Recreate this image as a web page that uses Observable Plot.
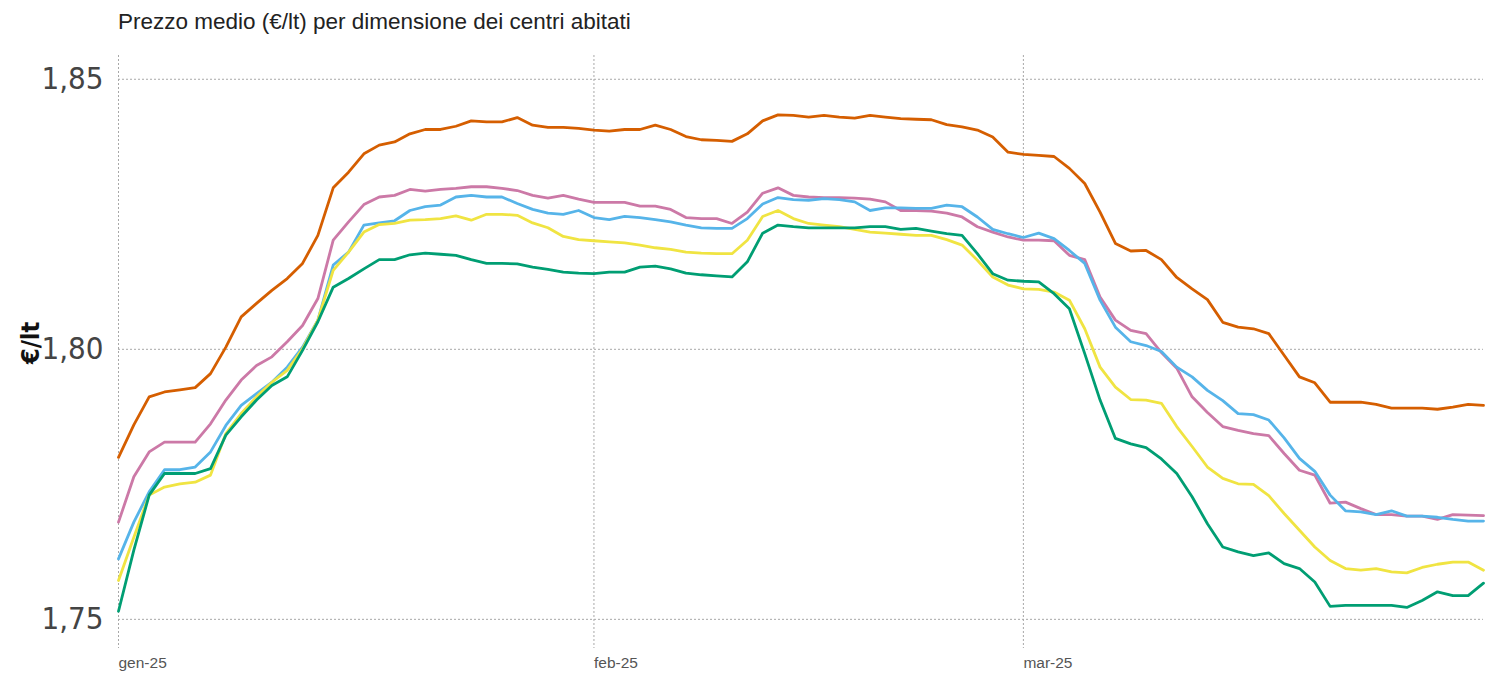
<!DOCTYPE html>
<html>
<head>
<meta charset="utf-8">
<script src="https://cdn.jsdelivr.net/npm/d3@7"></script>
<script src="https://cdn.jsdelivr.net/npm/@observablehq/plot@0.6"></script>
<style>
  html, body { margin: 0; padding: 0; background: #fff; }
  body { width: 1497px; height: 679px; overflow: hidden; font-family: "Liberation Sans", Arial, sans-serif; }
  #title { height: 45px; box-sizing: border-box; padding: 9px 0 0 118px; font-size: 22.5px; color: #222; line-height: 26px; white-space: nowrap; font-family: "Liberation Sans", Arial, sans-serif; }
</style>
</head>
<body>
<div id="title">Prezzo medio (€/lt) per dimensione dei centri abitati</div>
<div id="chart"></div>
<script>
// Tick labels and positions
const xTickDates = ["2025-01-01", "2025-02-01", "2025-03-01"];
const xTickLabels = ["gen-25", "feb-25", "mar-25"];
const yTicks = [1.75, 1.80, 1.85];
const yLabel = "€/lt";

// Daily values: 1 Jan 2025 – 31 Mar 2025
const arancione = [
  1.7800, 1.7860, 1.7912, 1.7921, 1.7925, 1.7929, 1.7955, 1.8004, 1.8060, 1.8085,
  1.8109, 1.8131, 1.8159, 1.8211, 1.8299, 1.8328, 1.8362, 1.8378, 1.8384, 1.8399,
  1.8407, 1.8407, 1.8413, 1.8423, 1.8421, 1.8421, 1.8429, 1.8415, 1.8411, 1.8411,
  1.8409,
  1.8406, 1.8404, 1.8407, 1.8407, 1.8415, 1.8407, 1.8394, 1.8388, 1.8387, 1.8385,
  1.8399, 1.8423, 1.8434, 1.8433, 1.8430, 1.8433, 1.8430, 1.8428, 1.8433, 1.8430,
  1.8427, 1.8426, 1.8425, 1.8416, 1.8412, 1.8406, 1.8393, 1.8365,
  1.8361, 1.8359, 1.8357, 1.8335, 1.8307, 1.8254, 1.8196, 1.8182, 1.8183, 1.8166,
  1.8133, 1.8112, 1.8092, 1.8050, 1.8041, 1.8038, 1.8029, 1.7989, 1.7949, 1.7938,
  1.7902, 1.7902, 1.7902, 1.7898, 1.7891, 1.7891, 1.7891, 1.7889, 1.7893, 1.7898,
  1.7896
];
const rosa = [
  1.7680, 1.7764, 1.7810, 1.7828, 1.7828, 1.7828, 1.7862, 1.7906, 1.7943, 1.7970,
  1.7986, 1.8014, 1.8044, 1.8094, 1.8202, 1.8236, 1.8268, 1.8282, 1.8285, 1.8296,
  1.8293, 1.8296, 1.8298, 1.8301, 1.8301, 1.8298, 1.8294, 1.8285, 1.8280, 1.8285,
  1.8278,
  1.8272, 1.8272, 1.8272, 1.8265, 1.8265, 1.8259, 1.8244, 1.8242, 1.8242, 1.8233,
  1.8254, 1.8289, 1.8299, 1.8285, 1.8282, 1.8281, 1.8281, 1.8280, 1.8278, 1.8273,
  1.8257, 1.8257, 1.8256, 1.8252, 1.8245, 1.8227, 1.8217, 1.8208,
  1.8202, 1.8202, 1.8201, 1.8174, 1.8166, 1.8097, 1.8054, 1.8035, 1.8029, 1.7994,
  1.7965, 1.7912, 1.7883, 1.7857, 1.7850, 1.7844, 1.7840, 1.7807, 1.7776, 1.7767,
  1.7715, 1.7717, 1.7705, 1.7694, 1.7694, 1.7691, 1.7691, 1.7685, 1.7694, 1.7693,
  1.7692
];
const azzurro = [
  1.7612, 1.7680, 1.7736, 1.7777, 1.7777, 1.7782, 1.7810, 1.7859, 1.7896, 1.7918,
  1.7939, 1.7967, 1.8004, 1.8054, 1.8156, 1.8180, 1.8230, 1.8234, 1.8238, 1.8257,
  1.8264, 1.8267, 1.8282, 1.8285, 1.8282, 1.8282, 1.8270, 1.8259, 1.8252, 1.8250,
  1.8257,
  1.8244, 1.8240, 1.8246, 1.8244, 1.8240, 1.8236, 1.8230, 1.8225, 1.8224, 1.8224,
  1.8242, 1.8269, 1.8281, 1.8277, 1.8276, 1.8279, 1.8277, 1.8273, 1.8257, 1.8262,
  1.8262, 1.8261, 1.8261, 1.8267, 1.8264, 1.8245, 1.8222, 1.8214,
  1.8207, 1.8215, 1.8205, 1.8183, 1.8159, 1.8091, 1.8041, 1.8014, 1.8007, 1.7996,
  1.7967, 1.7949, 1.7924, 1.7905, 1.7881, 1.7879, 1.7869, 1.7836, 1.7798, 1.7774,
  1.7730, 1.7701, 1.7699, 1.7694, 1.7701, 1.7691, 1.7691, 1.7689, 1.7685, 1.7682,
  1.7682
];
const giallo = [
  1.7572, 1.7652, 1.7730, 1.7745, 1.7751, 1.7754, 1.7767, 1.7844, 1.7881, 1.7912,
  1.7939, 1.7961, 1.8001, 1.8054, 1.8146, 1.8180, 1.8217, 1.8231, 1.8233, 1.8239,
  1.8240, 1.8242, 1.8247, 1.8239, 1.8250, 1.8250, 1.8248, 1.8234, 1.8225, 1.8209,
  1.8203,
  1.8201, 1.8199, 1.8197, 1.8193, 1.8188, 1.8185, 1.8180, 1.8178, 1.8177, 1.8177,
  1.8202, 1.8246, 1.8257, 1.8242, 1.8233, 1.8230, 1.8227, 1.8222, 1.8217, 1.8215,
  1.8213, 1.8211, 1.8211, 1.8203, 1.8193, 1.8165, 1.8134, 1.8119,
  1.8112, 1.8111, 1.8106, 1.8091, 1.8038, 1.7967, 1.7930, 1.7907, 1.7906, 1.7900,
  1.7857, 1.7820, 1.7782, 1.7761, 1.7751, 1.7750, 1.7729, 1.7696, 1.7665, 1.7634,
  1.7609, 1.7594, 1.7591, 1.7594, 1.7588, 1.7586, 1.7596, 1.7602, 1.7606, 1.7606,
  1.7591
];
const verde = [
  1.7515, 1.7628, 1.7730, 1.7770, 1.7770, 1.7770, 1.7779, 1.7841, 1.7875, 1.7906,
  1.7933, 1.7949, 1.7998, 1.8051, 1.8115, 1.8131, 1.8149, 1.8166, 1.8166, 1.8175,
  1.8178, 1.8176, 1.8174, 1.8166, 1.8159, 1.8159, 1.8158, 1.8152, 1.8148, 1.8143,
  1.8141,
  1.8140, 1.8143, 1.8143, 1.8152, 1.8154, 1.8149, 1.8141, 1.8138, 1.8136, 1.8134,
  1.8162, 1.8215, 1.8230, 1.8227, 1.8225, 1.8225, 1.8225, 1.8225, 1.8227, 1.8227,
  1.8222, 1.8224, 1.8219, 1.8214, 1.8211, 1.8177, 1.8140, 1.8128,
  1.8126, 1.8125, 1.8103, 1.8075, 1.7992, 1.7906, 1.7835, 1.7825, 1.7818, 1.7797,
  1.7770, 1.7727, 1.7677, 1.7634, 1.7625, 1.7618, 1.7623, 1.7603, 1.7594, 1.7569,
  1.7524, 1.7526, 1.7526, 1.7526, 1.7526, 1.7522, 1.7535, 1.7551, 1.7544, 1.7544,
  1.7567
];

const seriesNames = ["arancione", "rosa", "azzurro", "giallo", "verde"];
const seriesValues = [arancione, rosa, azzurro, giallo, verde];
const seriesColors = ["#D55E00", "#CC79A7", "#56B4E9", "#F0E442", "#009E73"];

const dates = d3.utcDay.range(new Date(Date.UTC(2025, 0, 1)), new Date(Date.UTC(2025, 3, 1)));
const rows = [];
seriesNames.forEach((name, s) => {
  seriesValues[s].forEach((v, i) => rows.push({serie: name, data: dates[i], prezzo: v}));
});
const xTicks = xTickDates.map(s => new Date(s + "T00:00:00Z"));
const fmtX = d => xTickLabels[xTicks.findIndex(t => +t === +d)];
const fmtY = d => d.toFixed(2).replace(".", ",");
const FONT = '"Liberation Sans", Arial, sans-serif';
const NARROW = '"DejaVu Sans Condensed", "Liberation Sans", Arial, sans-serif';

const chart = Plot.plot({
  width: 1497,
  height: 634,
  marginLeft: 118,
  marginRight: 14,
  marginTop: 10,
  marginBottom: 31,
  style: {fontFamily: FONT, background: "#fff", overflow: "visible"},
  x: {type: "utc", domain: [dates[0], dates[dates.length - 1]], label: null},
  y: {domain: [1.7446, 1.8544], label: null},
  color: {domain: seriesNames, range: seriesColors},
  marks: [
    Plot.gridX(xTicks, {stroke: "#a8a8a8", strokeOpacity: 1, strokeDasharray: "2,2", strokeWidth: 1}),
    Plot.gridY(yTicks, {stroke: "#a8a8a8", strokeOpacity: 1, strokeDasharray: "2,2", strokeWidth: 1}),
    Plot.axisX(xTicks, {tickFormat: fmtX, tickSize: 0, tickPadding: 8, textAnchor: "start", fontSize: 15.5, fill: "#555", label: null}),
    Plot.axisY(yTicks, {tickFormat: fmtY, tickSize: 0, tickPadding: 15, fontSize: 31, fontFamily: NARROW, fill: "#444", label: null}),
    Plot.text([yLabel], {frameAnchor: "left", dx: -88, dy: 12, rotate: -90, fontSize: 25, fontWeight: "bold", fontFamily: NARROW, fill: "#111"}),
    Plot.lineY(rows, {x: "data", y: "prezzo", z: "serie", stroke: "serie", strokeWidth: 2.8, curve: "linear"})
  ]
});
document.getElementById("chart").appendChild(chart);
</script>
</body>
</html>
